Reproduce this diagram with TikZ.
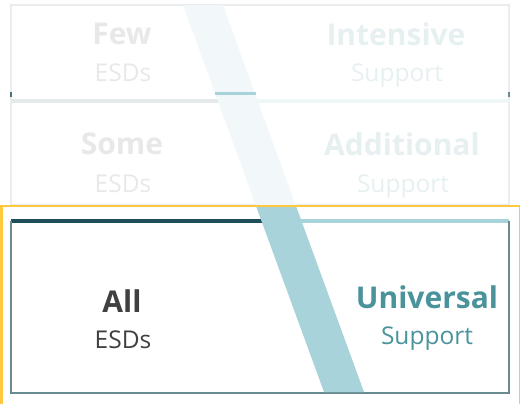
\documentclass[tikz,border=0pt]{standalone}
\usepackage{fontspec}
\setmainfont{Open Sans}
\definecolor{deepteal}{HTML}{1F4E5A}
\definecolor{paleteal}{HTML}{A9D3DA}
\definecolor{inkgray}{HTML}{404040}
\definecolor{tealtext}{HTML}{4A939B}
\definecolor{framegray}{HTML}{6A8A91}
\definecolor{gold}{HTML}{FFC83D}
\tikzset{
  tierword/.style={font=\bfseries\fontsize{30}{30}\selectfont, anchor=base, inner sep=0pt},
  tiersub/.style={font=\fontsize{24.5}{24.5}\selectfont, anchor=base, inner sep=0pt},
  reach/.style={text=inkgray},
  help/.style={text=tealtext}
}
\begin{document}
\begin{tikzpicture}[x=1pt,y=-1pt]
  \useasboundingbox (0,0) rectangle (520,404);
  % faded upper tiers
  \draw[framegray!15, line width=1.5] (11,5) rectangle (509,205);
  \draw[deepteal!12, line width=4] (11,101) -- (240,101);
  \draw[paleteal!20, line width=4] (240,101) -- (509,101);
  \fill[paleteal!15] (183,5) -- (223,5) -- (296,206) -- (256,206) -- cycle;
  \draw[paleteal, line width=3] (215,94) -- (256,94);
  \draw[deepteal!80, line width=1.5] (11,92) -- (11,97);
  \draw[framegray, line width=1.5] (509,92) -- (509,97);
  % universal tier
  \draw[deepteal, line width=4] (11,221) -- (280,221);
  \draw[paleteal, line width=4] (280,221) -- (509,221);
  \draw[framegray, line width=2] (11,221) -- (11,393) -- (509,393) -- (509,221);
  \fill[paleteal] (256,206) -- (296,206) -- (364,392) -- (324,392) -- cycle;
  \draw[gold, line width=2.5] (1.5,206) rectangle (519.8,404.8);
  % labels
  \node[tierword, text=inkgray!12] (few) at (122,45) {Few};
  \node[tiersub, text=inkgray!12] (fewsub) at (123,82) {ESDs};
  \node[tierword, text=tealtext!14] (intensive) at (396,46) {Intensive};
  \node[tiersub, text=tealtext!14] (intensivesub) at (397,82) {Support};
  \node[tierword, text=inkgray!12] (some) at (122,154) {Some};
  \node[tiersub, text=inkgray!12] (somesub) at (123,192) {ESDs};
  \node[tierword, text=tealtext!14] (additional) at (402,155) {Additional};
  \node[tiersub, text=tealtext!14] (additionalsub) at (403,192) {Support};
  \node[tierword, reach] (all) at (122,312) {All};
  \node[tiersub, reach] (allsub) at (123,348) {ESDs};
  \node[tierword, help] (universal) at (427,308) {Universal};
  \node[tiersub, help] (universalsub) at (427,344) {Support};
\end{tikzpicture}
\end{document}
